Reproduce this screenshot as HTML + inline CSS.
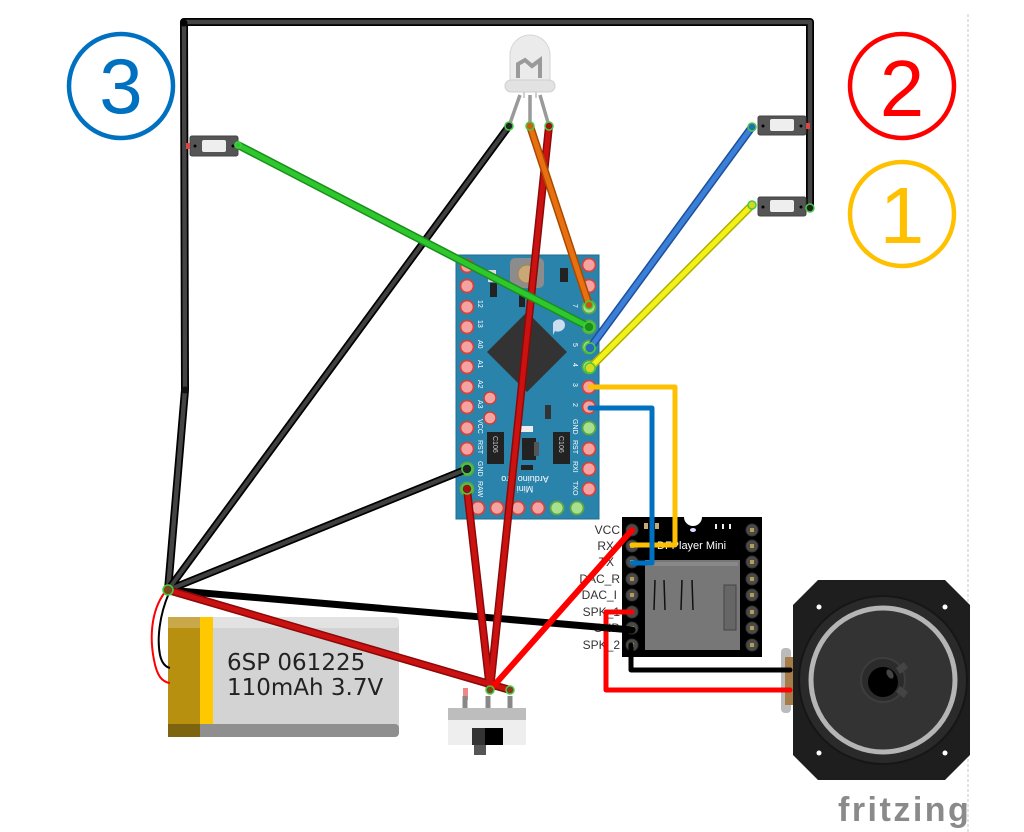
<!DOCTYPE html>
<html><head><meta charset="utf-8"><style>
html,body{margin:0;padding:0;background:#fff;}
svg{display:block;}
</style></head><body>
<svg width="1024" height="832" viewBox="0 0 1024 832" xmlns="http://www.w3.org/2000/svg" font-family="Liberation Sans, sans-serif">
<rect width="1024" height="832" fill="#fff"/>
<line x1="968" y1="14" x2="968" y2="832" stroke="#d8d8d8" stroke-width="1.5" stroke-dasharray="3,2"/>

<!-- circled numbers -->
<circle cx="121" cy="86" r="52" fill="none" stroke="#0070C0" stroke-width="4.5"/>
<text x="121" y="113" font-size="78" fill="#0070C0" text-anchor="middle">3</text>
<circle cx="902" cy="86" r="52" fill="none" stroke="#FF0000" stroke-width="4.5"/>
<text x="902" y="116" font-size="80" fill="#FF0000" text-anchor="middle">2</text>
<circle cx="902" cy="214" r="52" fill="none" stroke="#FFC000" stroke-width="4.5"/>
<text x="902" y="243" font-size="80" fill="#FFC000" text-anchor="middle">1</text>

<!-- top frame black wire -->
<g fill="none" stroke-linecap="round" stroke-linejoin="round">
<path d="M184,22 L810,22 M184,22 L185,390 L168,590 M810,22 L810,208" stroke="#000" stroke-width="8"/>
<path d="M184,22 L810,22 M184,22 L185,390 L168,590 M810,22 L810,208" stroke="#444" stroke-width="4.5"/>
</g>
<circle cx="184" cy="23" r="3.5" fill="#000"/>
<circle cx="185" cy="390" r="3.5" fill="#111"/>

<!-- Arduino board -->
<g>
<rect x="456" y="255" width="143" height="264" fill="#2a83ab" stroke="#1f6d90" stroke-width="1"/>
<rect x="510" y="258" width="34" height="30" rx="5" fill="#8c8c8c"/>
<circle cx="527" cy="274" r="9" fill="#c9a877" stroke="#a38456" stroke-width="1"/>
<rect x="560" y="268" width="8" height="14" fill="#222"/>
<rect x="488" y="270" width="8" height="12" fill="#ddd"/>
<rect x="490" y="283" width="7" height="14" fill="#222"/>
<rect x="519" y="293" width="6" height="14" fill="#222"/>
<path d="M553,323 c4,-6 12,-4 12,2 c0,5 -6,8 -10,6 l-2,4 z" fill="#cde"/>
<polygon points="527,312 567,352 527,392 487,352" fill="#333"/>
<rect x="545" y="405" width="6" height="14" fill="#333"/>
<circle cx="490" cy="398" r="6" fill="#f4a3a0" stroke="#c9403a" stroke-width="1.5"/>
<circle cx="490" cy="418" r="6" fill="#f4a3a0" stroke="#c9403a" stroke-width="1.5"/>
<rect x="487" y="432" width="17" height="32" fill="#222"/>
<rect x="553" y="432" width="17" height="32" fill="#222"/>
<text x="0" y="0" font-size="7" fill="#ccc" transform="translate(493,436) rotate(90)">C106</text>
<text x="0" y="0" font-size="7" fill="#ccc" transform="translate(559,436) rotate(90)">C106</text>
<rect x="519" y="426" width="14" height="6" fill="#eee"/>
<rect x="522" y="438" width="14" height="22" fill="#222"/>
<rect x="534" y="442" width="5" height="14" fill="#555"/>
<rect x="521" y="465" width="12" height="5" fill="#222"/>
<text x="0" y="0" font-size="9" fill="#fff" text-anchor="middle" transform="translate(525,476) rotate(180)">Arduino Pro</text>
<text x="0" y="0" font-size="9" fill="#fff" text-anchor="middle" transform="translate(525,486) rotate(180)">Mini</text>
</g>
<g stroke-width="1.8">
<g fill="#f4a3a0" stroke="#d0443f">
<circle cx="467" cy="266" r="6.5"/><circle cx="467" cy="286" r="6.5"/><circle cx="467" cy="307" r="6.5"/><circle cx="467" cy="327" r="6.5"/><circle cx="467" cy="347" r="6.5"/><circle cx="467" cy="367" r="6.5"/><circle cx="467" cy="387" r="6.5"/><circle cx="467" cy="407" r="6.5"/><circle cx="467" cy="428" r="6.5"/><circle cx="467" cy="449" r="6.5"/>
<circle cx="589" cy="265" r="6.5"/><circle cx="589" cy="286" r="6.5"/><circle cx="589" cy="387" r="6.5"/><circle cx="589" cy="407" r="6.5"/><circle cx="589" cy="449" r="6.5"/><circle cx="589" cy="469" r="6.5"/><circle cx="589" cy="489" r="6.5"/>
<circle cx="478" cy="508" r="6.5"/><circle cx="497" cy="508" r="6.5"/><circle cx="518" cy="508" r="6.5"/><circle cx="538" cy="508" r="6.5"/>
</g>
<g fill="#a8e090" stroke="#5aa83e">
<circle cx="589" cy="428" r="6.5"/><circle cx="557" cy="508" r="6.5"/><circle cx="577" cy="508" r="6.5"/>
<circle cx="467" cy="469" r="6.5"/><circle cx="467" cy="489" r="6.5"/>
<circle cx="589" cy="307" r="6.5"/><circle cx="589" cy="327" r="6.5"/><circle cx="589" cy="347" r="6.5"/><circle cx="589" cy="367" r="6.5"/>
</g>
</g>
<g font-size="7" fill="#fff">
<text transform="translate(478,300) rotate(90)">12</text>
<text transform="translate(478,320) rotate(90)">13</text>
<text transform="translate(478,340) rotate(90)">A0</text>
<text transform="translate(478,360) rotate(90)">A1</text>
<text transform="translate(478,380) rotate(90)">A2</text>
<text transform="translate(478,400) rotate(90)">A3</text>
<text transform="translate(478,419) rotate(90)">VCC</text>
<text transform="translate(478,440) rotate(90)">RST</text>
<text transform="translate(478,461) rotate(90)">GND</text>
<text transform="translate(478,481) rotate(90)">RAW</text>
<text transform="translate(573,304) rotate(90)">7</text>
<text transform="translate(573,343) rotate(90)">5</text>
<text transform="translate(573,363) rotate(90)">4</text>
<text transform="translate(573,383) rotate(90)">3</text>
<text transform="translate(573,403) rotate(90)">2</text>
<text transform="translate(573,419) rotate(90)">GND</text>
<text transform="translate(573,440) rotate(90)">RST</text>
<text transform="translate(573,461) rotate(90)">RXI</text>
<text transform="translate(573,481) rotate(90)">TXO</text>
</g>

<!-- LED -->
<g>
<path d="M520,95 L509,126 M530,95 L530,126 M540,95 L549,126" stroke="#9a9a9a" stroke-width="3.5" fill="none"/>
<path d="M510,80 L510,55 A20,20 0 0 1 550,55 L550,80 Z" fill="#ebebeb" stroke="#d6d6d6" stroke-width="1"/>
<rect x="505" y="80" width="50" height="12" rx="6" fill="#e2e2e2" stroke="#cfcfcf"/>
<path d="M518,78 L518,64 L525,60 L532,66 L540,60 L540,78" fill="none" stroke="#9a9a9a" stroke-width="4"/>
<path d="M524,92 L524,98 M536,92 L536,98" stroke="#cfcfcf" stroke-width="2"/>
</g>

<!-- Buttons -->
<g>
<rect x="190" y="136" width="48" height="20" rx="2" fill="#555" stroke="#444"/>
<rect x="202" y="140" width="24" height="12" rx="2" fill="#eee"/>
<circle cx="195" cy="146" r="1.5" fill="#000"/><circle cx="233" cy="146" r="1.5" fill="#000"/>
<rect x="186" y="143" width="4" height="6" fill="#d44"/>
<rect x="758" y="116" width="48" height="19" rx="2" fill="#555" stroke="#444"/>
<rect x="770" y="119" width="24" height="12" rx="2" fill="#eee"/>
<circle cx="763" cy="126" r="1.5" fill="#000"/><circle cx="801" cy="126" r="1.5" fill="#000"/>
<rect x="806" y="123" width="4" height="6" fill="#d44"/>
<rect x="758" y="197" width="48" height="19" rx="2" fill="#555" stroke="#444"/>
<rect x="770" y="200" width="24" height="12" rx="2" fill="#eee"/>
<circle cx="763" cy="207" r="1.5" fill="#000"/><circle cx="801" cy="207" r="1.5" fill="#000"/>
</g>

<!-- DFPlayer -->
<g>
<path d="M622,517 L684,517 A9,9 0 0 0 702,517 L762,517 L762,657 L622,657 Z" fill="#000"/>
<rect x="645" y="560" width="95" height="90" fill="#777"/>
<rect x="647" y="562" width="91" height="4" fill="#888"/>
<path d="M655,580 L654,610 M664,580 L665,610 M682,580 L681,610 M692,580 L693,610" stroke="#111" stroke-width="1.5"/>
<rect x="724" y="585" width="12" height="45" fill="#666" stroke="#444"/>
<text x="657" y="549" font-size="11" fill="#fff">DFPlayer Mini</text>
<rect x="644" y="523" width="4" height="6" fill="#c9a877"/>
<rect x="655" y="523" width="4" height="6" fill="#c9a877"/>
<rect x="715" y="524" width="2" height="5" fill="#eee"/><rect x="722" y="524" width="2" height="5" fill="#eee"/><rect x="729" y="524" width="2" height="5" fill="#eee"/>
<ellipse cx="693" cy="530" rx="3" ry="2" fill="#ddf"/>
<g fill="#4a4a4a" stroke="#333">
<circle cx="632" cy="530" r="6"/><circle cx="632" cy="546" r="6"/><circle cx="632" cy="562" r="6"/><circle cx="632" cy="579" r="6"/><circle cx="632" cy="595" r="6"/><circle cx="632" cy="612" r="6"/><circle cx="632" cy="628" r="6"/><circle cx="632" cy="645" r="6"/>
<circle cx="752" cy="530" r="6"/><circle cx="752" cy="546" r="6"/><circle cx="752" cy="562" r="6"/><circle cx="752" cy="579" r="6"/><circle cx="752" cy="595" r="6"/><circle cx="752" cy="612" r="6"/><circle cx="752" cy="628" r="6"/><circle cx="752" cy="645" r="6"/>
</g>
<g fill="#b59a5a">
<rect x="630" y="528" width="4" height="4"/><rect x="630" y="544" width="4" height="4"/><rect x="630" y="560" width="4" height="4"/><rect x="630" y="577" width="4" height="4"/><rect x="630" y="593" width="4" height="4"/><rect x="630" y="610" width="4" height="4"/><rect x="630" y="626" width="4" height="4"/><rect x="630" y="643" width="4" height="4"/>
<rect x="750" y="528" width="4" height="4"/><rect x="750" y="544" width="4" height="4"/><rect x="750" y="560" width="4" height="4"/><rect x="750" y="577" width="4" height="4"/><rect x="750" y="593" width="4" height="4"/><rect x="750" y="610" width="4" height="4"/><rect x="750" y="626" width="4" height="4"/><rect x="750" y="643" width="4" height="4"/>
</g>
</g>
<g font-size="12" fill="#333" text-anchor="end">
<text x="620" y="534">VCC</text>
<text x="614" y="550">RX</text>
<text x="614" y="566">TX</text>
<text x="620" y="583">DAC_R</text>
<text x="617" y="599">DAC_I</text>
<text x="620" y="616">SPK_1</text>
<text x="620" y="632">GND</text>
<text x="620" y="649">SPK_2</text>
</g>

<!-- Battery -->
<g>
<rect x="168" y="617" width="231" height="120" rx="5" fill="#d3d3d3"/>
<rect x="168" y="617" width="231" height="11" rx="4" fill="#e2e2e2"/>
<rect x="168" y="724" width="231" height="13" rx="4" fill="#8f8f8f"/>
<rect x="168" y="617" width="33" height="120" rx="4" fill="#b8900f"/>
<rect x="168" y="617" width="33" height="11" fill="#c9a84a"/>
<rect x="168" y="724" width="33" height="13" fill="#7d6410"/>
<rect x="200" y="617" width="13" height="120" fill="#ffc800"/>
<rect x="200" y="724" width="13" height="13" fill="#8f8f8f"/>
<text x="227" y="670" font-size="23" fill="#222" style="font-family:'DejaVu Sans','Liberation Sans',sans-serif">6SP 061225</text>
<text x="227" y="695" font-size="23" fill="#222" style="font-family:'DejaVu Sans','Liberation Sans',sans-serif">110mAh 3.7V</text>
<path d="M165,592 C150,612 150,640 154,660 C157,676 162,682 170,683" fill="none" stroke="#f00" stroke-width="2"/>
<path d="M169,593 C159,616 157,640 160,655 C162,664 166,667 170,668" fill="none" stroke="#000" stroke-width="2"/>
</g>

<!-- Switch -->
<g>
<rect x="463" y="688" width="5" height="12" fill="#e88"/>
<path d="M465,696 L465,710 M488,696 L488,710 M510,696 L510,710" stroke="#888" stroke-width="5"/>
<rect x="448" y="708" width="78" height="12" fill="#bdbdbd"/>
<rect x="448" y="720" width="78" height="25" fill="#eee"/>
<rect x="472" y="728" width="31" height="17" fill="#000"/>
<rect x="472" y="728" width="13" height="17" fill="#333"/>
<rect x="474" y="745" width="12" height="10" fill="#555"/>
</g>

<!-- Speaker -->
<g>
<rect x="781" y="648" width="10" height="65" rx="4" fill="#bbb"/>
<rect x="785" y="657" width="9" height="48" fill="#a67c48"/>
<polygon points="818,580 945,580 970,605 970,755 945,780 818,780 793,755 793,605" fill="#1e1e1e"/>
<circle cx="883" cy="680" r="84" fill="#2a2a2a" stroke="#161616" stroke-width="2"/>
<circle cx="883" cy="680" r="72" fill="#333" stroke="#b5b5b5" stroke-width="5"/>
<circle cx="883" cy="680" r="22" fill="#2b2b2b" stroke="#3d3d3d" stroke-width="2"/>
<path d="M896,668 L904,662 L908,668 L900,674 Z M896,692 L904,698 L908,692 L900,686 Z" fill="#444"/>
<circle cx="883" cy="682" r="15" fill="#000"/>
<ellipse cx="890" cy="674" rx="3" ry="5" fill="#444" transform="rotate(-30 890 674)"/>
<circle cx="819" cy="607" r="2.5" fill="#fff"/><circle cx="945" cy="607" r="2.5" fill="#fff"/>
<circle cx="819" cy="753" r="2.5" fill="#fff"/><circle cx="945" cy="753" r="2.5" fill="#fff"/>
</g>

<!-- Wires -->
<g fill="none" stroke-linecap="round" stroke-linejoin="round">
<path d="M590,387 L675,387 L675,545 L632,545" stroke="#FFC000" stroke-width="5"/>
<path d="M590,408 L652,408 L652,563 L632,563" stroke="#0070C0" stroke-width="5"/>
<path d="M632,612 L606,612 L606,690 L790,690" stroke="#FF0000" stroke-width="5"/>
<path d="M631,645 L631,670 L790,670" stroke="#000" stroke-width="5"/>
<path d="M168,590 L632,630" stroke="#000" stroke-width="7"/>
<path d="M509,126 L168,590 M467,469 L168,590" stroke="#000" stroke-width="7.5"/>
<path d="M509,126 L168,590 M467,469 L168,590" stroke="#404040" stroke-width="4"/>
<path d="M168,590 L510,690 M467,489 L490,690 M549,126 L490,690" stroke="#8a0a0a" stroke-width="8"/>
<path d="M168,590 L510,690 M467,489 L490,690 M549,126 L490,690" stroke="#cc1111" stroke-width="5"/>
<path d="M490,690 L632,530" stroke="#FF0000" stroke-width="6"/>
<path d="M238,145 L589,327" stroke="#1a8f1a" stroke-width="8"/>
<path d="M238,145 L589,327" stroke="#2ec82e" stroke-width="5"/>
<path d="M530,126 L589,305" stroke="#a84a00" stroke-width="8"/>
<path d="M530,126 L589,305" stroke="#e87010" stroke-width="5"/>
<path d="M752,127 L590,348" stroke="#1e4f9a" stroke-width="8"/>
<path d="M752,127 L590,348" stroke="#3a7fd8" stroke-width="5"/>
<path d="M752,205 L590,368" stroke="#b0b000" stroke-width="8"/>
<path d="M752,205 L590,368" stroke="#f2f21a" stroke-width="5"/>
</g>
<g fill="none" stroke="#4c4" stroke-width="1.5">
<circle cx="168" cy="590" r="5" fill="#7a4a1a"/>
<circle cx="490" cy="690" r="4" fill="#7a4a1a"/>
<circle cx="510" cy="690" r="4" fill="#8a3a1a"/>
<circle cx="509" cy="126" r="4" fill="#222"/>
<circle cx="530" cy="126" r="4" fill="#d06010"/>
<circle cx="549" cy="126" r="4" fill="#a01010"/>
<circle cx="589" cy="327" r="5" fill="#1a8f1a"/>
<circle cx="589" cy="305" r="4" fill="#c05a10"/>
<circle cx="590" cy="348" r="5" fill="#2a6ab8"/>
<circle cx="590" cy="368" r="5" fill="#d8d820"/>
<circle cx="752" cy="127" r="4" fill="#2a6ab8"/>
<circle cx="752" cy="205" r="4" fill="#d8d820"/>
<circle cx="810" cy="208" r="4" fill="#222"/>
<circle cx="467" cy="469" r="5" fill="#222"/>
<circle cx="467" cy="489" r="5" fill="#a01010"/>
<circle cx="238" cy="145" r="3" fill="#2ec82e"/>
</g>

<text x="838" y="821" font-size="34" font-weight="bold" fill="#8a8a8a" letter-spacing="2.5">fritzing</text>
</svg>
</body></html>
